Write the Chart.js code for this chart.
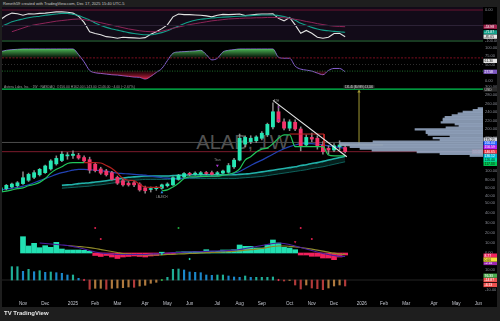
<!DOCTYPE html>
<html lang="en">
<head>
<meta charset="utf-8">
<title>ALAB 1W</title>
<script src="https://cdn.jsdelivr.net/npm/chart.js@4.4.1/dist/chart.umd.min.js"></script>
<style>
  html, body { margin: 0; padding: 0; }
  body {
    width: 500px; height: 321px; overflow: hidden; position: relative;
    background: #1e1e1e; font-family: "Liberation Sans", Arial, sans-serif;
  }
  .abs { position: absolute; }
  #stage { left: 2px; top: 7px; width: 495px; height: 300px; background: #000; }
  #header { left: 3px; top: 1px; font-size: 4px; line-height: 5px; color: #c9c9c9; white-space: nowrap; }
  #legend { left: 4px; top: 85px; font-size: 3.4px; line-height: 4px; color: #9a9a9a; white-space: nowrap; }
  #watermark {
    left: 2px; top: 84px; width: 481px; height: 116px;
    display: flex; align-items: center; justify-content: center;
    font-size: 20px; color: rgba(165,165,165,0.5);
  }
  #footer { left: 4px; top: 310px; font-size: 6px; font-weight: bold; color: #e6e6e6; white-space: nowrap; }
  canvas { position: absolute; left: 2px; }
</style>
</head>
<body>
<div id="stage" class="abs"></div>
<div id="header" class="abs">Reneth59 created with TradingView.com, Dec 17, 2025 15:40 UTC-5</div>
<div id="watermark" class="abs">ALAB, 1W</div>
<canvas id="oscTop" width="495" height="35" style="top:7px"></canvas>
<canvas id="oscMid" width="495" height="42" style="top:42px"></canvas>
<canvas id="price" width="495" height="116" style="top:84px"></canvas>
<canvas id="profile" width="495" height="116" style="top:84px"></canvas>
<canvas id="momentum" width="495" height="62" style="top:200px"></canvas>
<canvas id="macd" width="495" height="45" style="top:262px"></canvas>
<div id="legend" class="abs">Astera Labs, Inc. · 1W · NASDAQ &nbsp;O156.00 H162.00 L143.00 C146.00 −4.00 (−2.67%)</div>
<div id="footer" class="abs">TV TradingView</div>

<script>
// weekly bars, index 0 = week of Oct 7 2024, index 62 = week of Dec 15 2025
const monthTicks = [4, 8, 13, 17, 21, 26, 30, 34, 39, 43, 47, 52, 56, 60, 65, 69, 73, 78, 82, 86];
const monthLabels = ['Nov', 'Dec', '2025', 'Feb', 'Mar', 'Apr', 'May', 'Jun', 'Jul', 'Aug', 'Sep', 'Oct',
  'Nov', 'Dec', '2026', 'Feb', 'Mar', 'Apr', 'May', 'Jun'];

const opens = [51, 58, 62, 65, 70, 78, 85, 91, 96, 105, 117, 125, 136, 137, 137, 132, 127, 116, 105, 100,
  96, 85, 77, 71, 72, 69, 60, 56, 58, 59, 65, 67, 80, 86, 94, 92, 92, 96, 96, 93,
  95, 97, 110, 126, 164, 170, 172, 178, 186, 205, 241, 217, 202, 216, 200, 162, 180, 178, 162, 154,
  150, 158, 156];
const highs = [62, 68, 71, 75, 98, 95, 101, 106, 114, 127, 136, 146, 144, 148, 142, 136, 133, 120, 109, 104,
  99, 88, 80, 75, 76, 72, 64, 62, 63, 69, 72, 86, 92, 96, 97, 98, 99, 99, 100, 99,
  102, 118, 130, 188, 184, 184, 184, 194, 214, 262, 256, 224, 222, 222, 205, 186, 190, 184, 170, 160,
  165, 172, 162];
const lows = [49, 55, 60, 62, 68, 75, 82, 88, 94, 102, 114, 122, 128, 130, 128, 121, 95, 98, 92, 88,
  78, 68, 64, 64, 63, 52, 47, 50, 54, 57, 62, 66, 78, 84, 89, 90, 90, 91, 90, 90,
  93, 95, 106, 124, 158, 165, 168, 174, 182, 200, 215, 198, 196, 196, 148, 158, 170, 152, 140, 140,
  146, 150, 143];
const closes = [60, 66, 69, 72, 84, 92, 96, 104, 112, 124, 130, 140, 138, 140, 131, 124, 102, 101, 95, 91,
  80, 71, 67, 67, 67, 55, 53, 58, 60, 67, 69, 84, 90, 94, 92, 95, 96, 94, 92, 96,
  100, 113, 126, 178, 180, 178, 181, 190, 211, 241, 217, 202, 217, 200, 160, 180, 176, 158, 146, 150,
  160, 162, 146];

// overlays on the price pane
const trendUp = [50, 52, 55, 58, 60, 65, 68, 73, 82, 95, 104, 110, 118, 120, 120, 120, null, null, null, null,
  null, null, null, null, null, null, null, null, null, 53, 55, 62, 71, 82, 86, 86, 87, 87, 88, 88,
  90, 92, 96, 105, 126, 134, 145, 152, 155, 165, 178, 186, 186, 158, 158, 158, 158, 158, 158, 138,
  136, 136, 136];
const trendDown = [null, null, null, null, null, null, null, null, null, null, null, null, null, null, null,
  120, 120, 120, 119, 113, 106, 95, 82, 78, 77, 68, 62, 61, 61, 61,
  null, null, null, null, null, null, null, null, null, null, null, null, null, null, null, null, null,
  null, null, null, null, null, null, null, null, null, null, null, null, null, null, null, null];
const maBlue = [55, 57, 59, 61, 64, 67, 72, 77, 82, 87, 92, 96, 99, 102, 104, 104, 103, 102, 101, 99,
  97, 95, 94, 93, 92, 91, 90, 88, 86, 84, 83, 82, 82, 83, 84, 85, 86, 87, 87, 88,
  90, 92, 95, 99, 106, 113, 120, 126, 133, 140, 147, 153, 158, 162, 165, 166, 165, 164, 162, 160,
  158, 156, 154];
const bandTop = [null, null, null, null, null, null, null, null, null, null, null,
  66, 67, 68, 70, 71, 72, 74, 75, 77, 79, 81, 83, 85, 86, 87, 88, 88, 88, 88,
  88, 89, 90, 90, 91, 91, 91, 91, 91, 91, 91, 91, 91, 92, 93, 94, 96, 98, 100, 102,
  104, 106, 108, 110, 113, 115, 118, 120, 123, 126, 129, 132, 135];
const bandLow = [null, null, null, null, null, null, null, null, null, null, null,
  59, 60, 61, 62, 63, 64, 66, 67, 69, 71, 73, 75, 77, 78, 79, 80, 80, 80, 80,
  80, 81, 81, 82, 82, 82, 82, 82, 82, 82, 82, 82, 82, 83, 84, 85, 86, 87, 89, 91,
  93, 95, 97, 99, 101, 103, 106, 108, 110, 113, 116, 119, 122];
const priceLevels = [295, 168, 146];
const priceTicks = [40, 60, 80, 100, 120, 140, 160, 180, 200, 220, 240, 260, 280, 300];
const resistBox = [[52, 188], [58.2, 188], [58.2, 158]];
const trendLine = [[49, 268], [62.3, 134]];
const measureV = [[64.5, 162], [64.5, 291]];
const measureH = [[61.1, 162], [68.8, 162]];

// volume profile (price bin, relative volume)
const vpPrices = [130, 135, 140, 145, 150, 155, 160, 165, 170, 175, 180, 185, 190, 195,
  200, 205, 210, 215, 220, 225, 230, 235, 240, 245, 250, 255, 260, 265];
const vpVolume = [13, 43, 66, 111, 123, 133, 143, 143, 110, 43, 50, 33, 55, 57,
  57, 68, 37, 24, 28, 42, 40, 40, 38, 31, 25, 20, 10, 5];

// top pane: %R style oscillator
const p1Main = [-30, -18, -10, -12, -17, -12, -13, -11, -10, -8, -6, -6, -7, -10, -20, -40, -70, -76, -80, -86,
  -88, -91, -88, -89, -90, -91, -89, -78, -70, -60, -48, -22, -13, -15, -15, -16, -17, -19, -22, -17,
  -14, -15, -14, -13, -18, -16, -14, -13, -13, -12, -27, -35, -24, -48, -75, -66, -75, -88, -91, -88,
  -76, -75, -86];
const p1Fast = [-54, -46, -38, -33, -29, -25, -22, -20, -17, -15, -13, -11, -11, -14, -18, -25, -32, -42, -50, -56,
  -61, -65, -69, -73, -76, -78, -80, -80, -77, -73, -67, -59, -52, -44, -38, -33, -30, -28, -26, -24,
  -23, -22, -21, -20, -19, -18, -17, -16, -16, -16, -18, -21, -26, -33, -43, -49, -56, -61, -65, -67,
  -69, -70, -72];
const p1Slow = [null, null, -70, -64, -58, -52, -48, -45, -42, -39, -36, -34, -32, -30, -29, -31, -34, -37, -41, -45,
  -49, -53, -57, -61, -64, -67, -69, -70, -70, -68, -64, -59, -55, -51, -47, -44, -41, -38, -35, -33,
  -31, -29, -28, -27, -26, -26, -25, -25, -24, -24, -24, -25, -27, -30, -33, -37, -40, -44, -47, -50,
  -52, -53, -54];
const p1Levels = [0, -50, -100];
const p1Ticks = [0, -25, -50, -75, -100];

// second pane: 0-100 oscillator
const p2Osc = [89, 93, 95, 96, 97, 97, 97, 97, 97, 97, 97, 97, 97, 97, 80, 58, 32, 25, 23, 21,
  19, 18, 16, 14, 12, 11, 6, 14, 26, 38, 62, 84, 88, 89, 90, 91, 93, 80, 64, 69,
  88, 93, 95, 97, 97, 97, 97, 97, 97, 97, 72, 69, 69, 45, 36, 33, 30, 24, 19, 32,
  38, 38, 28];
const p2Levels = [70, 50, 30];
const p2Ticks = [0, 25, 50, 75, 100];

// momentum histogram pane
const p4Hist = [null, null, null, null, 16.3, 7, 9.7, 5.3, 7.3, 5.7, 10.7, 4, 3, 3, 3, 2.7, 1.7, -2.5, -3.5, -2.5,
  -4, -5.5, -4, -3.5, -3, -3.5, -4, -3, -2.5, 0.8, -1.5, -1, 1, 1.2, 1.2, 1.5, 1.5, 3.3, 1.8, 1.8,
  3, 3, 3.3, 8, 6.7, 6.7, 5, 5, 8, 13, 10, 5.7, 5, 3.3, -2, -2, -3.3, -3.3, -5, -5,
  -6.7, -4, -2];
const p4Purple = [null, null, null, null, null, null, null, 10, 9.5, 9, 8.5, 8, 7.5, 6.5, 5.5, 4, 2.5, 1, 0, -0.5,
  -1, -1.5, -1.5, -1.5, -1.5, -1.5, -1.5, -1, -0.8, -0.5, 0, 0.3, 0.5, 0.8, 1, 1.2, 1.4, 1.6, 1.8, 2,
  2.2, 2.5, 2.8, 3.5, 4.5, 5.5, 6.5, 7.5, 8.5, 9.5, 10, 9.5, 8.5, 7, 5.5, 4, 2.5, 1, -0.5, -1.5,
  -2.5, -3.3, -3.5];
const p4Olive = [null, null, null, null, null, null, null, null, null, null, null, null,
  7.5, 7, 6.5, 6, 5.3, 4.5, 3.5, 2.5, 1.5, 0.5, -0.5, -1, -1.5, -1.7, -2, -2, -2, -1.8,
  -1.5, -1.3, -1, -0.8, -0.5, -0.3, 0, 0.3, 0.5, 0.7, 1, 1.3, 1.6, 2.2, 2.8, 3.3, 3.8, 4.5, 5.5, 6.5,
  7, 7, 6.7, 6.2, 5.5, 4.7, 3.8, 2.8, 1.8, 0.8, -0.2, -1, -1.5];
const p4SellDots = [[17, 25], [18, 14], [54, 25], [56, 14]];
const p4BuyDots = [[32, 25]];
const p4TealDots = [[29, -1], [34, -6]];
const p4SellArrows = [[53, 11]];
const p4Ticks = [0, 10, 20, 30, 40, 50];

// macd style histogram pane
const p5Hist = [null, null, 13.3, 13.3, 8.7, 10.7, 8.3, 9.3, 7.7, 8, 7.3, 6.7, 5, 5, 1.7, null, -9.3, -8.3, -8.3, -9.3,
  -8.3, -8, -7.7, -7, -7.3, -6, -5.3, -3.3, -2.3, null, 2.7, 10.7, 11, 10, 8, 7.7, 7.3, 5, 4.7, 5,
  5, 4, 3, 2.7, 4, 2.7, 2.7, 2.7, 2.7, 3, null, -1, -0.5, -5, -9, -5, -8, -8.7, -9.7, -8,
  -6, -5, -6];
const p5SellMarks = [[15, 0], [50, 0]];
const p5BuyMarks = [[29, 0]];
const p5Ticks = [-10, 0, 10];

const X_MIN = 0.22, X_MAX = 86.82;
const UP = '#26e6b3', DOWN = '#f2336a';
const FONT = '"Liberation Sans", Arial, sans-serif';

Chart.defaults.font.family = FONT;
Chart.defaults.animation = false;
Chart.defaults.events = [];
Chart.defaults.plugins.legend.display = false;
Chart.defaults.plugins.tooltip.enabled = false;

function pts(values) {
  return values.map((v, i) => ({ x: i, y: v }));
}

function pairs(list) {
  return list.map(([x, y]) => ({ x, y }));
}

function line(values, color, width, extra) {
  return Object.assign({
    type: 'line', data: pts(values), borderColor: color, borderWidth: width,
    pointRadius: 0, cubicInterpolationMode: 'monotone', spanGaps: false, fill: false
  }, extra || {});
}

function segment(list, color, width, extra) {
  return Object.assign({
    type: 'line', data: pairs(list), borderColor: color, borderWidth: width,
    pointRadius: 0, tension: 0, fill: false
  }, extra || {});
}

function level(v, color, width, dash) {
  return segment([[X_MIN, v], [X_MAX, v]], color, width, { borderDash: dash || [] });
}

function markers(list, color, style, radius, rotation) {
  return {
    type: 'line', data: pairs(list), showLine: false, pointStyle: style,
    pointRadius: radius, pointBackgroundColor: color, pointBorderColor: color,
    pointBorderWidth: 0, pointRotation: rotation || 0
  };
}

function xAxis(show) {
  return {
    type: 'linear', min: X_MIN, max: X_MAX, display: show, offset: false,
    grid: { display: false, drawTicks: false }, border: { display: false },
    afterBuildTicks: s => { s.ticks = monthTicks.map(v => ({ value: v })); },
    ticks: {
      color: '#c3c6cf', font: { size: 4.6 }, padding: 1, maxRotation: 0, autoSkip: false,
      callback: (v, i) => monthLabels[i]
    },
    // only the bottom pane reserves room for the time labels
    afterFit: s => {
      s.height = show ? 7 : 0;
      s.paddingLeft = 0;
      s.paddingRight = 0;
    }
  };
}

function yAxis(min, max, tickValues) {
  return {
    type: 'linear', position: 'right', min, max,
    grid: { display: false, drawTicks: false }, border: { display: false },
    afterBuildTicks: s => { s.ticks = tickValues.map(v => ({ value: v })); },
    ticks: { color: '#8a8d96', font: { size: 4 }, padding: 2, callback: v => Number(v).toFixed(2) },
    afterFit: s => { s.width = 14; s.paddingTop = 0; s.paddingBottom = 0; }
  };
}

function paneOptions(y, showX) {
  return {
    responsive: false, animation: false,
    layout: { padding: 0, autoPadding: false },
    scales: { x: xAxis(showX), y }
  };
}

// fills the plot area of a pane
function paneBg(color) {
  return {
    id: 'paneBg',
    beforeDraw(chart) {
      const { ctx, chartArea: a } = chart;
      ctx.save();
      ctx.fillStyle = color;
      ctx.fillRect(a.left, a.top, a.width, a.height);
      ctx.restore();
    }
  };
}

// coloured value boxes on the price scale
function tags(items) {
  return {
    id: 'tags',
    afterDraw(chart) {
      const { ctx, chartArea, scales } = chart;
      items.forEach(t => {
        const py = scales.y.getPixelForValue(t.v);
        const left = t.left ? chartArea.right - 11 : chartArea.right + 0.5;
        ctx.save();
        ctx.fillStyle = t.bg;
        ctx.fillRect(left, py - 2.1, t.left ? 11 : 13.5, 4.2);
        ctx.fillStyle = t.fg || '#fff';
        ctx.font = `3.4px ${FONT}`;
        ctx.textBaseline = 'middle';
        ctx.fillText(t.text, left + 1, py + 0.2);
        ctx.restore();
      });
    }
  };
}

// small text notes placed in data space
function notes(items) {
  return {
    id: 'notes',
    afterDatasetsDraw(chart) {
      const { ctx, scales } = chart;
      items.forEach(n => {
        const px = scales.x.getPixelForValue(n.x);
        const py = scales.y.getPixelForValue(n.y);
        const size = n.size || 3;
        ctx.save();
        ctx.font = `${size}px ${FONT}`;
        ctx.textAlign = 'center';
        ctx.textBaseline = 'middle';
        if (n.bg) {
          const w = ctx.measureText(n.text).width + 3;
          ctx.fillStyle = n.bg;
          ctx.fillRect(px - w / 2, py - size * 0.7, w, size * 1.4);
        }
        ctx.fillStyle = n.color || '#9a9a9a';
        ctx.fillText(n.text, px, py + 0.2);
        ctx.restore();
      });
    }
  };
}

// ---- pane 1
new Chart(document.getElementById('oscTop'), {
  type: 'line',
  data: {
    datasets: [
      level(p1Levels[0], '#6b1430', 1.2),
      level(p1Levels[1], '#2c2236', 1),
      level(p1Levels[2], '#1f6b2a', 1.2),
      line(p1Slow, '#8e2457', 1),
      line(p1Fast, '#13a08a', 1.1),
      line(p1Main, '#e2e2e2', 1.1, { cubicInterpolationMode: 'default', tension: 0 })
    ]
  },
  options: paneOptions(yAxis(-103.2, 9.7, p1Ticks), false),
  plugins: [paneBg('#120b18'), tags([
    { v: -54, text: '-53.98', bg: '#a3234f' },
    { v: -72, text: '-71.87', bg: '#12a08a' },
    { v: -86, text: '-85.65', bg: '#e6e6e6', fg: '#111' }
  ])]
});

// ---- pane 2
const greenFill = ctx => {
  const { chart } = ctx;
  const y = chart.scales.y;
  if (!chart.chartArea || !y) return 'rgba(80,200,90,0.5)';
  const g = chart.ctx.createLinearGradient(0, y.getPixelForValue(100), 0, y.getPixelForValue(70));
  g.addColorStop(0, 'rgba(85,205,95,0.95)');
  g.addColorStop(1, 'rgba(85,205,95,0.04)');
  return g;
};
const redFill = ctx => {
  const { chart } = ctx;
  const y = chart.scales.y;
  if (!chart.chartArea || !y) return 'rgba(240,40,80,0.5)';
  const g = chart.ctx.createLinearGradient(0, y.getPixelForValue(30), 0, y.getPixelForValue(2));
  g.addColorStop(0, 'rgba(200,25,60,0.1)');
  g.addColorStop(1, 'rgba(255,45,85,0.95)');
  return g;
};

new Chart(document.getElementById('oscMid'), {
  type: 'line',
  data: {
    datasets: [
      line(p2Osc, 'transparent', 0, { fill: { target: { value: 70 }, below: 'transparent' }, backgroundColor: greenFill }),
      line(p2Osc, 'transparent', 0, { fill: { target: { value: 30 }, above: 'transparent' }, backgroundColor: redFill }),
      level(p2Levels[0], '#8a1024', 0.9, [2, 1.5]),
      level(p2Levels[1], '#3a3a3a', 0.8, [1, 2]),
      level(p2Levels[2], '#1f7a2c', 0.9, [1, 1.5]),
      line(p2Osc, '#8560d0', 1)
    ]
  },
  options: paneOptions(yAxis(-9.1, 118.2, p2Ticks), false),
  plugins: [tags([
    { v: 61, text: '61.30', bg: '#e6e6e6', fg: '#111' },
    { v: 28, text: '27.58', bg: '#7e57c2' }
  ])]
});

// ---- price pane
const wicks = highs.map((h, i) => ({ x: i, y: [lows[i], h] }));
const bodies = opens.map((o, i) => ({ x: i, y: [o, closes[i]] }));
const candleColor = ctx => (closes[ctx.dataIndex] >= opens[ctx.dataIndex] ? UP : DOWN);

new Chart(document.getElementById('price'), {
  type: 'bar',
  data: {
    datasets: [
      line(bandLow, '#0e5d59', 1, { order: 20 }),
      line(bandTop, '#22b3ab', 1.6, { order: 19, fill: '-1', backgroundColor: 'rgba(18,110,100,0.28)' }),
      Object.assign(level(priceLevels[0], '#00c853', 1.4), { order: 18 }),
      Object.assign(level(priceLevels[1], '#4d4d4d', 1), { order: 18 }),
      Object.assign(level(priceLevels[2], '#7d1b2c', 1), { order: 18 }),
      line(maBlue, '#2242b4', 1.2, { order: 15 }),
      { type: 'bar', data: wicks, backgroundColor: 'rgba(160,160,160,0.85)', barThickness: 0.9, grouped: false, order: 6 },
      { type: 'bar', data: bodies, backgroundColor: candleColor, barThickness: 3.2, minBarLength: 1, grouped: false, order: 5 },
      line(trendUp, '#20c55a', 1.2, { order: 3 }),
      line(trendDown, '#b3201f', 1.2, { order: 3 }),
      segment(resistBox, '#c62828', 1, { order: 3 }),
      segment(trendLine, '#e6e6e6', 1.1, { order: 2 }),
      segment(measureV, '#a39a35', 1, { order: 2 }),
      segment(measureH, '#a39a35', 1, { order: 2 }),
      Object.assign(markers([[64.5, 289]], '#a39a35', 'triangle', 2), { order: 1 }),
      Object.assign(markers([[29, 49]], '#2f8ff0', 'triangle', 1.6), { order: 1 }),
      Object.assign(markers([[39, 113]], '#b03ad8', 'triangle', 1.6, 180), { order: 1 }),
      Object.assign(markers([[50, 252], [50, 222]], '#a020c0', 'rect', 1), { order: 1 })
    ]
  },
  options: paneOptions(yAxis(31, 307.1, priceTicks), false),
  plugins: [
    notes([
      { x: 49.6, y: 267, text: 'ATH', size: 2.8 },
      { x: 39, y: 125, text: 'Titan', size: 2.8 },
      { x: 29, y: 37, text: 'LAUNCH', size: 2.8 },
      { x: 64.5, y: 300, text: '131.45 (80.99%) 13,146', size: 2.6, color: '#e0e0e0', bg: '#2b2b2b' }
    ]),
    tags([
      { v: 294, text: 'USD', bg: '#2a2a2a', fg: '#cfcfcf' },
      { v: 175, text: '175.21', bg: '#d1d4dc', fg: '#111' },
      { v: 166, text: '166.04', bg: '#2962ff' },
      { v: 156.5, text: '156.59', bg: '#b41ff0' },
      { v: 146, text: '146.65', bg: '#f23645' },
      { v: 146, text: '51:08', bg: '#f23645', left: true },
      { v: 136, text: '136.12', bg: '#00b8d4' },
      { v: 126, text: '126.40', bg: '#00e0a0', fg: '#111' },
      { v: 117, text: '117.33', bg: '#00c853', fg: '#111' }
    ])
  ]
});

// ---- volume profile drawn over the right side of the price pane
new Chart(document.getElementById('profile'), {
  type: 'bar',
  data: {
    datasets: [{
      data: vpPrices.map((p, i) => ({ x: vpVolume[i], y: p })),
      backgroundColor: 'rgba(150,168,196,0.88)',
      barThickness: 1.7
    }]
  },
  options: {
    responsive: false, animation: false, indexAxis: 'y',
    layout: { padding: { right: 14 }, autoPadding: false },
    scales: {
      x: { type: 'linear', min: 0, max: 481, reverse: true, display: false },
      y: { type: 'linear', min: 31, max: 307.1, display: false }
    }
  }
});

// ---- momentum pane
new Chart(document.getElementById('momentum'), {
  type: 'bar',
  data: {
    datasets: [
      markers(p4SellDots, '#e0204f', 'circle', 1),
      markers(p4BuyDots, '#1faa3c', 'circle', 1),
      markers(p4TealDots, '#22e0b2', 'rectRot', 1.2),
      markers(p4SellArrows, '#e0204f', 'triangle', 1.5, 180),
      line(p4Purple, '#4b1fa0', 1.2),
      line(p4Olive, '#8f8a2a', 1.2),
      {
        type: 'bar', data: pts(p4Hist), barThickness: 5, grouped: false,
        backgroundColor: ctx => (p4Hist[ctx.dataIndex] >= 0 ? '#22e0b2' : '#f0215c')
      }
    ]
  },
  options: paneOptions(yAxis(-9, 53, p4Ticks), false),
  plugins: [tags([
    { v: -2.6, text: '8.77', bg: '#f2245f' },
    { v: -6.6, text: '0.00', bg: '#f5e13a', fg: '#111' }
  ])]
});

// ---- macd pane with the time axis
const macdColor = ctx => {
  const i = ctx.dataIndex;
  const v = p5Hist[i];
  const prev = i > 0 && p5Hist[i - 1] !== null ? p5Hist[i - 1] : 0;
  if (v >= 0) return v >= prev ? '#1fae96' : '#1b87c9';
  return v < prev ? '#b23a3a' : '#b07a3e';
};

new Chart(document.getElementById('macd'), {
  type: 'bar',
  data: {
    datasets: [
      markers(p5SellMarks, '#e53950', 'rectRot', 1.3),
      markers(p5BuyMarks, '#2fb34a', 'circle', 1.1),
      { type: 'bar', data: pts(p5Hist), barThickness: 1.5, grouped: false, backgroundColor: macdColor },
      level(0, '#242424', 1)
    ]
  },
  options: paneOptions(yAxis(-20, 18, p5Ticks), true),
  plugins: [tags([
    { v: 17, text: '-2.14', bg: '#9c27b0' },
    { v: 4.3, text: '76.33', bg: '#4caf50' },
    { v: 0, text: '-14.87', bg: '#ef5350' },
    { v: -5, text: '-6.13', bg: '#ef5350' }
  ])]
});
</script>
</body>
</html>
